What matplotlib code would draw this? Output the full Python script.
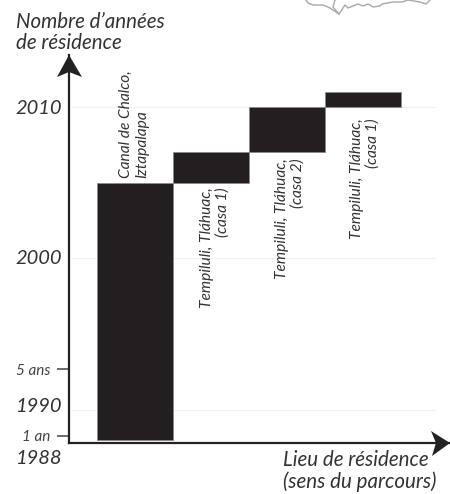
import matplotlib
matplotlib.use("Agg")
import matplotlib.pyplot as plt
from matplotlib.patches import Polygon

W, H = 450, 494
FONT = "Lato"
TEXT = "#333333"
BAR = "#231f20"

places = ["Canal de Chalco,\nIztapalapa", "Tempiluli, Tláhuac,\n(casa 1)",
          "Tempiluli, Tláhuac,\n(casa 2)", "Tempiluli, Tláhuac,\n(casa 1)"]
start_year = [1988, 2005, 2007, 2010]
end_year = [2005, 2007, 2010, 2011]
year_ticks = [1990, 2000, 2010]
span_ticks = [1988.3, 1992.7]
span_labels = ["1 an", "5 ans"]
map_coast_x = [306, 308, 313, 323, 330, 339, 345, 348, 358, 363, 368, 373, 380, 382, 393, 402, 408, 420, 426, 430]
map_coast_y = [0, 3, 5, 5, 8, 14, 5, 8, 4, 6, 4, 7, 6, 4, 2, 2, 0, 2, 4, 0]
map_border_x = [335, 333, 339]
map_border_y = [0, 7, 14]

fig = plt.figure(figsize=(W / 100, H / 100), dpi=100)
L, R, T, B = 69, 449, 55, 443
ax = fig.add_axes([L / W, 1 - B / H, (R - L) / W, (B - T) / H])
ax.set_xlim(-0.868, 4.13)
ax.set_ylim(1987.82, 2013.43)

for y in year_ticks:
    ax.plot([-0.83, 3.95], [y, y], color="#f1f1f1", lw=0.8, zorder=0)

for i, (s, e) in enumerate(zip(start_year, end_year)):
    ax.bar(i, e - s, bottom=s, width=1.0, color=BAR, edgecolor="#8a8a8a", lw=0.6, zorder=2)

for side in ("top", "right"):
    ax.spines[side].set_visible(False)
for side in ("left", "bottom"):
    ax.spines[side].set_linewidth(1.6)
    ax.spines[side].set_color("#222222")
ax.set_xticks([])
ax.set_yticks(span_ticks, span_labels, fontsize=11, fontstyle="italic", family=FONT, color="#444444")
ax.tick_params(axis="y", length=8.6, width=1.1, color="#444444", pad=5)

for y, dy in zip(year_ticks, (3, 0, -2)):
    ax.annotate(str(y), xy=(0, y), xycoords=("axes fraction", "data"), xytext=(-7, dy),
                textcoords="offset pixels", ha="right", va="center", fontsize=14.5,
                fontstyle="italic", family=FONT, color=TEXT)
fig.text(62 / W, 1 - 458 / H, "1988", ha="right", va="center", fontsize=14.5,
         fontstyle="italic", family=FONT, color=TEXT)

fig.text(16 / W, 1 - 32.5 / H, "Nombre d’années\nde résidence", ha="left", va="center", fontsize=14.8,
         fontstyle="italic", family=FONT, color=TEXT, linespacing=1.1)
fig.text(283 / W, 1 - 471 / H, "Lieu de résidence\n(sens du parcours)", ha="left", va="center",
         multialignment="left", fontsize=14.8, fontstyle="italic", family=FONT, color=TEXT, linespacing=1.1)

label_dx = [-1, 4, 3, 2]
label_dy = [5, -5, -6, -11]
for i, label in enumerate(places):
    lab_kw = dict(rotation=90, ha="center", fontsize=11.2, fontstyle="italic", family=FONT,
                  color=TEXT, linespacing=1.15, zorder=3)
    if i == 0:
        ax.annotate(label, xy=(i, end_year[i]), xytext=(label_dx[i], label_dy[i]), textcoords="offset pixels",
                    va="bottom", multialignment="left", **lab_kw)
    else:
        ax.annotate(label, xy=(i, start_year[i]), xytext=(label_dx[i], label_dy[i]), textcoords="offset pixels",
                    va="top", multialignment="right", **lab_kw)

over = fig.add_axes([0, 0, 1, 1], facecolor="none")
over.set_xlim(0, W)
over.set_ylim(H, 0)
over.axis("off")
over.plot(map_coast_x, map_coast_y, color="#a8a8a8", lw=1.0)
over.plot(map_border_x, map_border_y, color="#a8a8a8", lw=1.0)
over.add_patch(Polygon([(69, 55), (82, 77), (69, 72), (57, 77)], closed=True, color="#222222", lw=0))
over.add_patch(Polygon([(450, 443), (432, 456), (436, 443), (431, 431)], closed=True, color="#222222", lw=0))

fig.savefig("out.png", dpi=100)
